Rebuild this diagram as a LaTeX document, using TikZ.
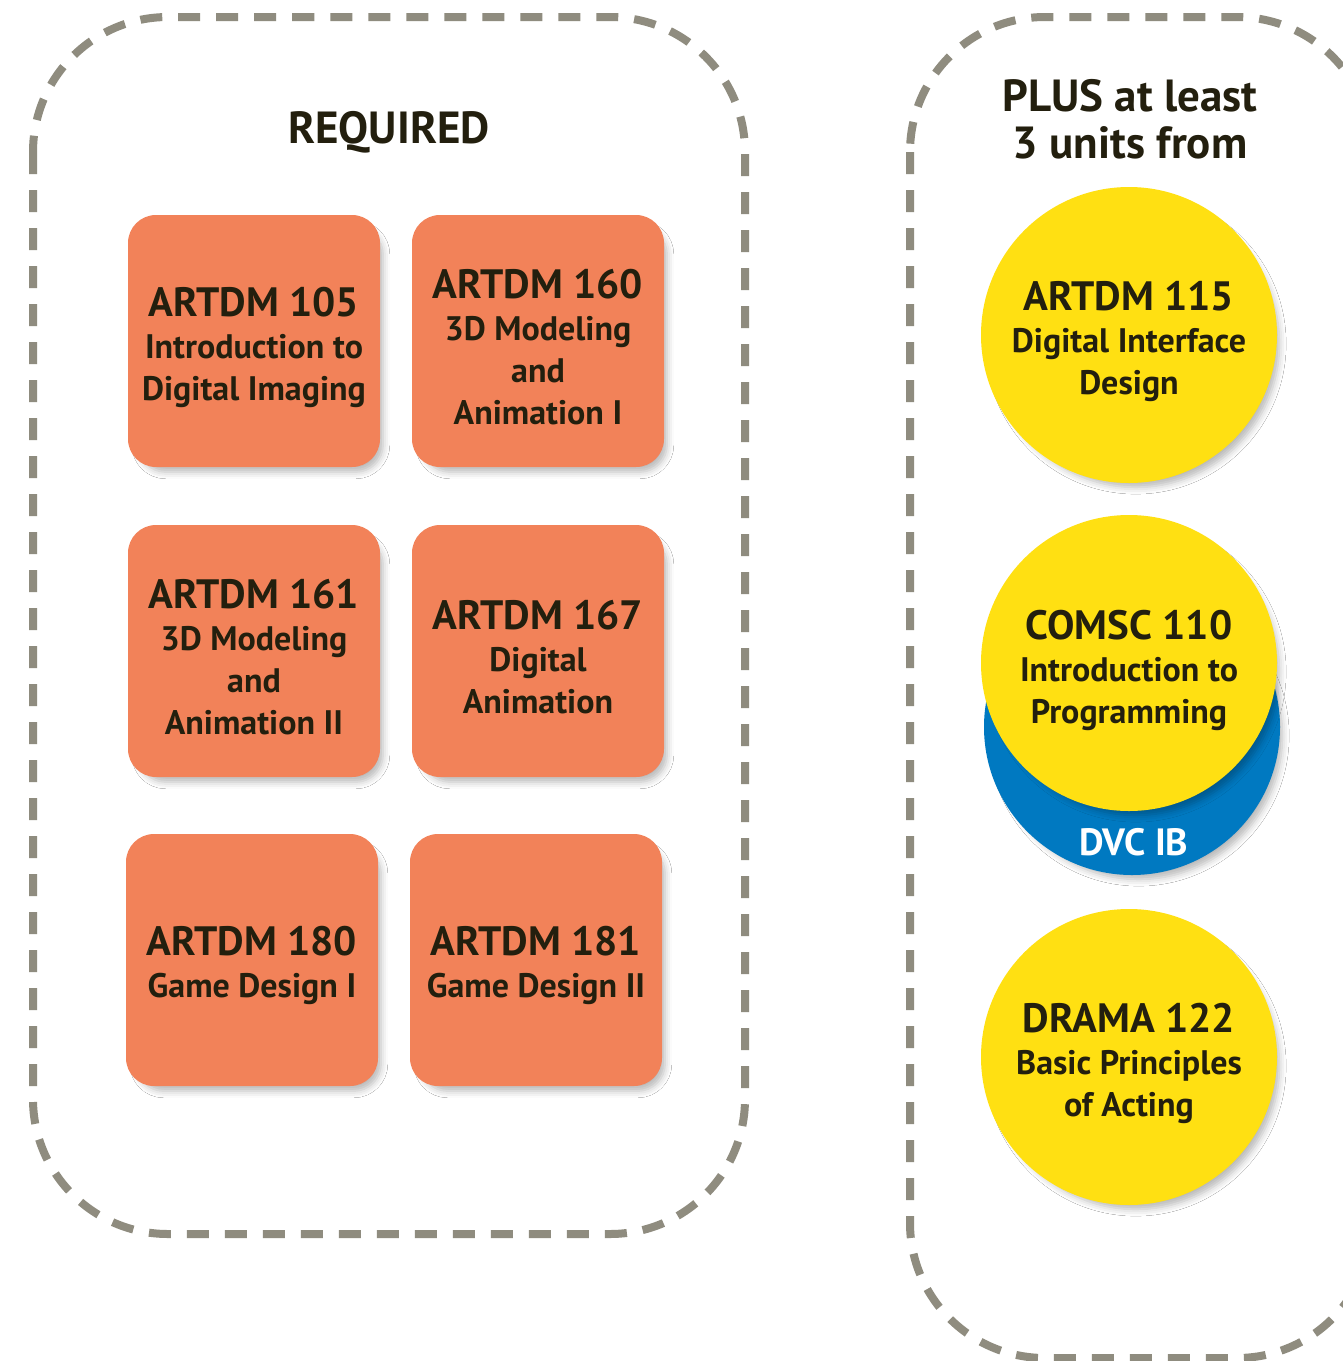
\documentclass[tikz,border=0pt]{standalone}
\usepackage{fontspec}
\setmainfont{PT Sans}
\usetikzlibrary{shadows.blur}
\definecolor{dashgrey}{RGB}{143,140,127}
\definecolor{boxorange}{RGB}{242,130,89}
\definecolor{circyellow}{RGB}{255,224,18}
\definecolor{circblue}{RGB}{0,121,193}
\definecolor{inkdark}{RGB}{35,31,14}
\newcommand{\ttl}[1]{{\fontsize{41}{44}\selectfont #1}}
\tikzset{
  softshadow/.style={blur shadow={shadow xshift=7pt, shadow yshift=-9pt, shadow scale=0.97, shadow blur radius=7pt, shadow opacity=28}},
  frame/.style={draw=dashgrey, line width=8pt, dash pattern=on 22pt off 16pt, rounded corners=135pt},
  coursebox/.style={fill=boxorange, rounded corners=28pt, minimum width=252pt, minimum height=252pt,
    inner sep=0pt, softshadow},
  boxtext/.style={align=center, text=inkdark, inner sep=0pt, font=\fontsize{34}{42}\selectfont\bfseries},
  coursecirc/.style={circle, fill=circyellow, minimum size=296pt, inner sep=0pt, softshadow},
  headline/.style={align=center, text=inkdark, inner sep=0pt, font=\fontsize{45}{47}\selectfont\bfseries}
}
\begin{document}
\begin{tikzpicture}[x=1pt,y=-1pt]
\useasboundingbox (0,0) rectangle (1343,1361);
\clip (0,0) rectangle (1343,1361);
\fill[white] (0,0) rectangle (1343,1361);
% frames
\draw[frame] (33,17) rectangle (745,1234);
\draw[frame] (910,17) rectangle (1372,1358);
% headings
\node[headline] (req) at (389,132) {REQUIRED};
\node[headline] (plus) at (1130,119) {PLUS at least\\3 units from};
% boxes
\node[coursebox] (a105) at (254,341) {};
\node[coursebox] (a160) at (538,341) {};
\node[coursebox] (a161) at (254,651) {};
\node[coursebox] (a167) at (538,651) {};
\node[coursebox] (a180) at (252,960) {};
\node[coursebox] (a181) at (536,960) {};
\node[boxtext] (t105) at ([yshift=-6pt]a105.center) {\ttl{ARTDM 105}\\Introduction to\\Digital Imaging};
\node[boxtext] (t160) at ([yshift=-6pt]a160.center) {\ttl{ARTDM 160}\\3D Modeling\\and\\Animation I};
\node[boxtext] (t161) at ([yshift=-6pt]a161.center) {\ttl{ARTDM 161}\\3D Modeling\\and\\Animation II};
\node[boxtext] (t167) at ([yshift=-6pt]a167.center) {\ttl{ARTDM 167}\\Digital\\Animation};
\node[boxtext] (t180) at ([yshift=-5pt]a180.center) {\ttl{ARTDM 180}\\Game Design I};
\node[boxtext] (t181) at ([yshift=-5pt]a181.center) {\ttl{ARTDM 181}\\Game Design II};
% circles
\node[coursecirc] (a115) at (1129,335) {};
\node[circle, fill=circblue, minimum size=296pt, inner sep=0pt, softshadow] (dvc) at (1132,727) {};
\node[coursecirc] (c110) at (1129,663) {};
\node[coursecirc] (d122) at (1129,1057) {};
\node[boxtext] (t115) at ([yshift=-6pt]a115.center) {\ttl{ARTDM 115}\\Digital Interface\\Design};
\node[boxtext] (t110) at ([yshift=-7pt]c110.center) {\ttl{COMSC 110}\\Introduction to\\Programming};
\node[text=white, inner sep=0pt, font=\fontsize{38}{40}\selectfont\bfseries] (dvclabel) at (1134,842) {DVC IB};
\node[boxtext] (t122) at ([yshift=-6pt]d122.center) {\ttl{DRAMA 122}\\Basic Principles\\of Acting};
\end{tikzpicture}
\end{document}
